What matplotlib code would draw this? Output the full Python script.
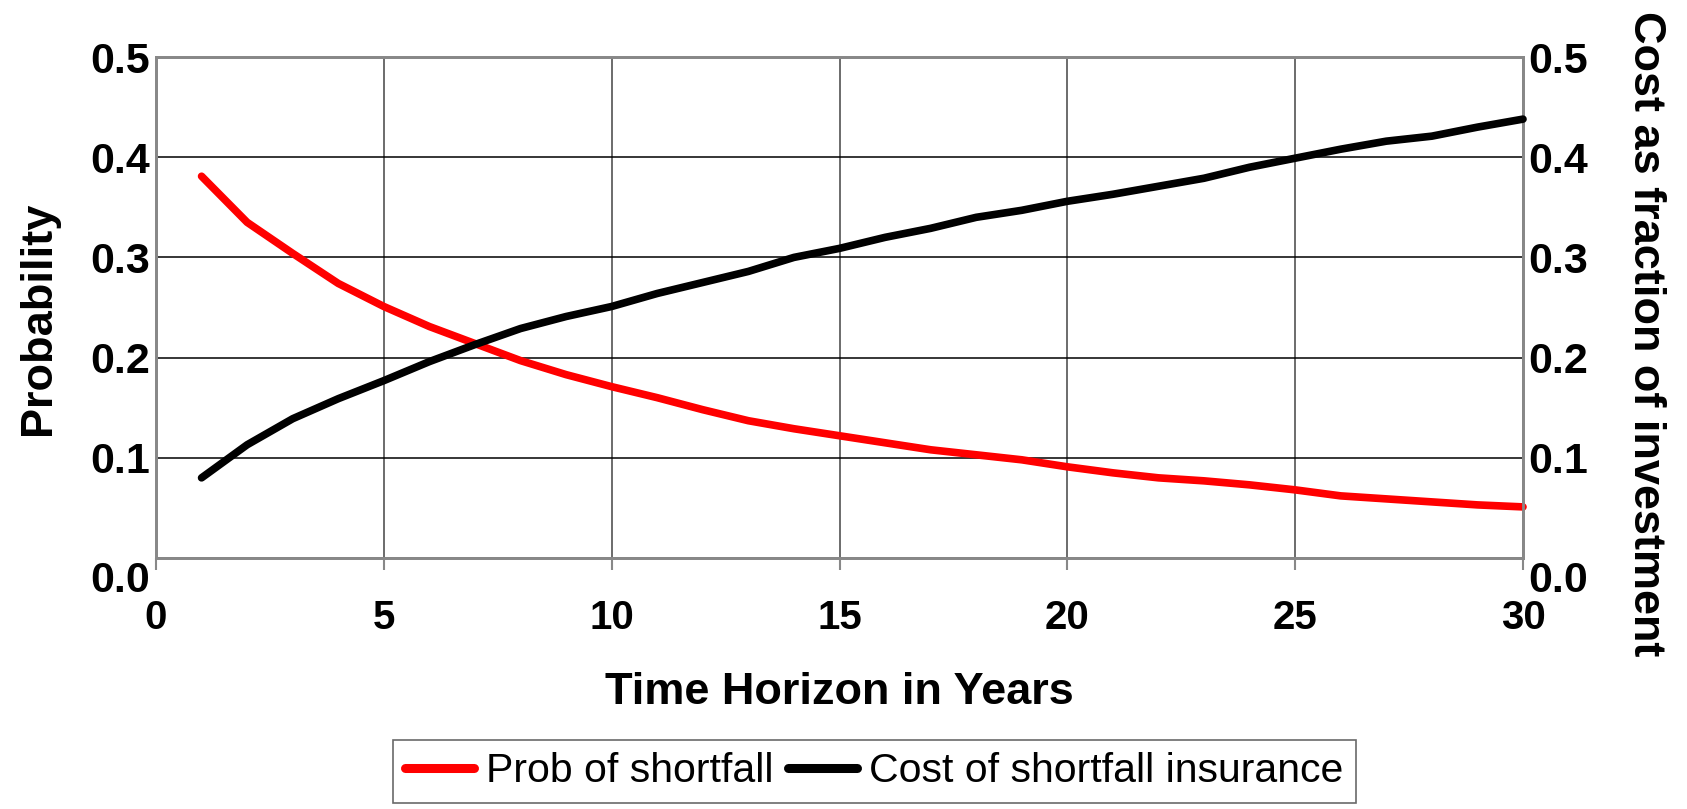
import numpy as np
import matplotlib
matplotlib.use("Agg")
import matplotlib.pyplot as plt
import matplotlib.transforms as mtransforms

# data
years = list(range(1, 31))
prob_shortfall = [0.381, 0.335, 0.304, 0.274, 0.251, 0.231, 0.214, 0.197, 0.183, 0.171,
                  0.160, 0.148, 0.137, 0.129, 0.122, 0.115, 0.108, 0.103, 0.098, 0.091,
                  0.085, 0.080, 0.077, 0.073, 0.068, 0.062, 0.059, 0.056, 0.053, 0.051]
cost_insurance = [0.080, 0.113, 0.139, 0.159, 0.177, 0.196, 0.213, 0.229, 0.241, 0.251,
                  0.264, 0.275, 0.286, 0.300, 0.309, 0.320, 0.329, 0.340, 0.347, 0.356,
                  0.363, 0.371, 0.379, 0.390, 0.399, 0.408, 0.416, 0.421, 0.430, 0.438]
x_ticks = [0, 5, 10, 15, 20, 25, 30]
y_ticks = [0.0, 0.1, 0.2, 0.3, 0.4, 0.5]

plt.rcParams['font.family'] = ['Liberation Sans', 'DejaVu Sans']

W, H = 1687, 809
fig = plt.figure(figsize=(W / 100, H / 100), dpi=100)
left, right, top, bottom = 156, 1523, 57, 558
ax = fig.add_axes([left / W, 1 - bottom / H, (right - left) / W, (bottom - top) / H])
ax2 = ax.twinx()

ax.plot(years, prob_shortfall, color='#ff0000', lw=5.5, solid_capstyle='round',
        label='Prob of shortfall', clip_on=False, zorder=3)
ax2.plot(years, cost_insurance, color='black', lw=5.5, solid_capstyle='round',
         label='Cost of shortfall insurance', clip_on=False, zorder=3)

for a in (ax, ax2):
    a.set_ylim(0, 0.5)
    a.set_yticks(y_ticks)
    a.set_yticklabels(['%.1f' % v for v in y_ticks], fontsize=31, fontweight='bold')
    a.tick_params(axis='y', length=0, pad=4)
    for s in a.spines.values():
        s.set_color('#888888')
        s.set_linewidth(2)

ax.set_xlim(0, 30)
ax.set_xticks(x_ticks)
ax.set_xticklabels([str(v) for v in x_ticks], fontsize=29, fontweight='bold')
ax.tick_params(axis='x', length=8.6, width=1.5, color='#888888', pad=21)

# the 0.0 labels sit lower than the others
shift = mtransforms.ScaledTranslation(0, -19 / 100, fig.dpi_scale_trans)
t0 = ax.yaxis.get_major_ticks()[0].label1
t0.set_transform(t0.get_transform() + shift)
t1 = ax2.yaxis.get_major_ticks()[0].label2
t1.set_transform(t1.get_transform() + shift)

ax.yaxis.grid(True, color='black', lw=1.1)
ax.xaxis.grid(True, color='#444444', lw=1.1)
ax.set_axisbelow(True)

ax.set_xlabel('Time Horizon in Years', fontsize=32.5, fontweight='bold')
ax.xaxis.set_label_coords(0.5, -0.227)
ax.set_ylabel('Probability', fontsize=32.5, fontweight='bold', va='center', ha='center')
ax.yaxis.set_label_coords(-0.0863, 0.479)
ax2.set_ylabel('Cost as fraction of investment', fontsize=32.5, fontweight='bold',
               rotation=-90, va='center', ha='center')
ax2.yaxis.set_label_coords(1.0896, 0.448)

h1, l1 = ax.get_legend_handles_labels()
h2, l2 = ax2.get_legend_handles_labels()
leg = fig.legend(h1 + h2, l1 + l2, loc='upper left', bbox_to_anchor=(393 / W, 1 - 740 / H),
                 ncol=2, fontsize=29.5, frameon=True, fancybox=False, handlelength=1.68,
                 handletextpad=0.3, columnspacing=0.35, borderpad=0.3, borderaxespad=0)
leg.get_frame().set_edgecolor('#444444')
leg.get_frame().set_linewidth(1.2)
for ln in leg.get_lines():
    ln.set_linewidth(6.5)

fig.savefig('out.png', dpi=100)
